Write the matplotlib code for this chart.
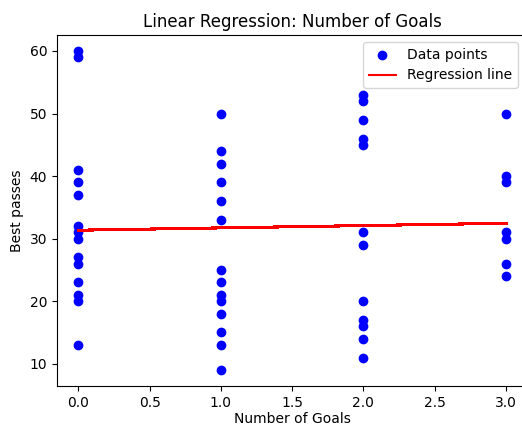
import matplotlib
matplotlib.use("Agg")
import matplotlib.pyplot as plt
import numpy as np

# goals scored and best passes per player
goals = [0]*14 + [1]*14 + [2]*12 + [3]*7
best_passes = [60, 59, 41, 39, 37, 32, 31, 30, 27, 26, 23, 21, 20, 13,
               50, 44, 42, 39, 36, 33, 25, 23, 21, 20, 18, 15, 13, 9,
               53, 52, 49, 46, 45, 31, 29, 20, 17, 16, 14, 11,
               50, 40, 39, 31, 30, 26, 24]

# fitted model
intercept = 31.35
slope = 0.37

x = np.array(goals, dtype=float)
y = np.array(best_passes, dtype=float)

fig = plt.figure(figsize=(5.22, 4.25), dpi=100)
ax = fig.add_axes([0.109, 0.0918, 0.9013, 0.8258])
ax.scatter(x, y, color='blue', label='Data points')
ax.plot(x, slope*x + intercept, color='red', label='Regression line', antialiased=False)
ax.set_title('Linear Regression: Number of Goals')
ax.set_xlabel('Number of Goals', labelpad=2)
ax.set_ylabel('Best passes')
ax.legend(loc='upper right', bbox_to_anchor=(0.995, 1.0))
fig.savefig('out.png', dpi=100)
